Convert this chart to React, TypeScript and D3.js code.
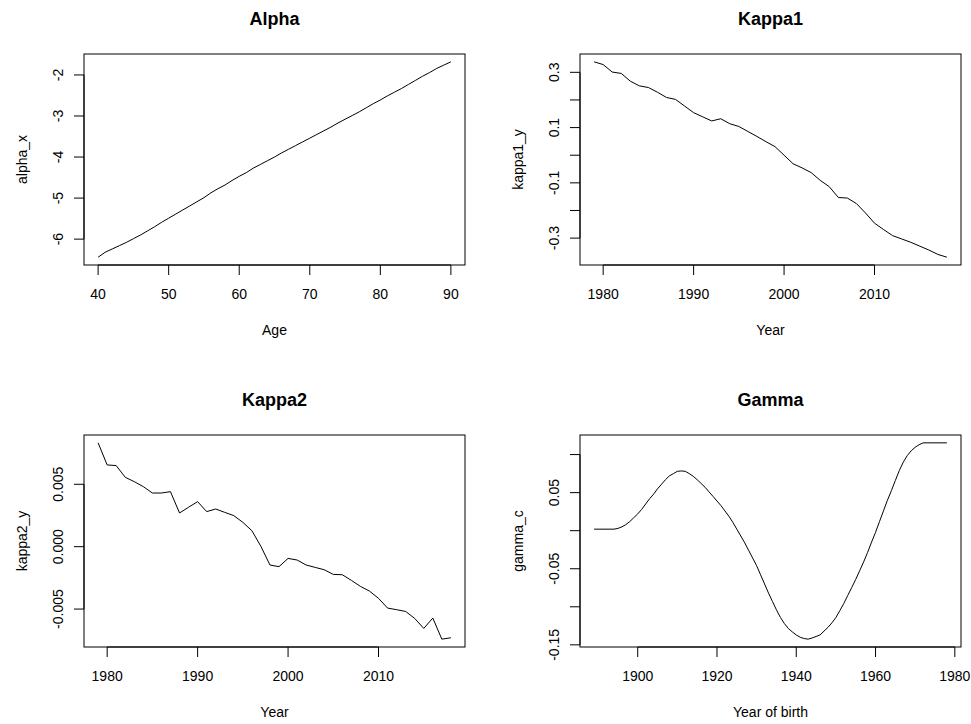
import React from "react";
import * as d3 from "d3";

// Age-specific level (ages 40..90)
const ages = d3.range(40, 91);
const alphaX = [
  -6.44, -6.32, -6.24, -6.16, -6.08, -5.99, -5.9, -5.8, -5.7, -5.59,
  -5.49, -5.39, -5.29, -5.19, -5.09, -4.99, -4.87, -4.77, -4.68, -4.57,
  -4.47, -4.38, -4.27, -4.18, -4.09, -4.0, -3.9, -3.81, -3.72, -3.63,
  -3.54, -3.45, -3.36, -3.27, -3.17, -3.08, -2.99, -2.9, -2.8, -2.7,
  -2.61, -2.51, -2.42, -2.33, -2.23, -2.13, -2.03, -1.94, -1.84, -1.76,
  -1.68,
];

// Period indices (years 1979..2018)
const years = d3.range(1979, 2019);
const kappa1Y = [
  0.338, 0.328, 0.301, 0.296, 0.268, 0.251, 0.245, 0.228, 0.209, 0.202,
  0.178, 0.154, 0.139, 0.124, 0.132, 0.114, 0.104, 0.086, 0.068, 0.049,
  0.031, 0.0, -0.031, -0.046, -0.063, -0.091, -0.114, -0.153, -0.155, -0.175,
  -0.209, -0.246, -0.269, -0.291, -0.303, -0.315, -0.329, -0.343, -0.359, -0.369,
];
const kappa2Y = [
  0.00832, 0.00655, 0.0065, 0.00556, 0.00521, 0.00481, 0.0043, 0.0043, 0.00441, 0.0027,
  0.00316, 0.00361, 0.00281, 0.00302, 0.00275, 0.00249, 0.00195, 0.00128, 0.00002, -0.00147,
  -0.0016, -0.00094, -0.00107, -0.00147, -0.00166, -0.00185, -0.00222, -0.00225, -0.0027, -0.00318,
  -0.00356, -0.00414, -0.00492, -0.00505, -0.00519, -0.00575, -0.00655, -0.00572, -0.00741, -0.0073,
];

// Cohort effect (years of birth 1889..1978)
const cohorts = d3.range(1889, 1979);
const gammaC = [
  0.002, 0.002, 0.002, 0.002, 0.002, 0.002, 0.003, 0.005, 0.008, 0.012,
  0.017, 0.022, 0.028, 0.035, 0.042, 0.048, 0.055, 0.061, 0.067, 0.072,
  0.075, 0.078, 0.0785, 0.078, 0.075, 0.0715, 0.067, 0.062, 0.057, 0.051,
  0.045, 0.039, 0.033, 0.026, 0.019, 0.011, 0.002, -0.007, -0.016, -0.026,
  -0.036, -0.046, -0.058, -0.07, -0.082, -0.093, -0.104, -0.114, -0.122, -0.1285,
  -0.133, -0.137, -0.14, -0.1417, -0.1425, -0.141, -0.139, -0.137, -0.132, -0.127,
  -0.121, -0.114, -0.105, -0.0956, -0.085, -0.0746, -0.064, -0.0526, -0.041, -0.0285,
  -0.015, -0.0022, 0.012, 0.026, 0.04, 0.0526, 0.066, 0.079, 0.09, 0.0987,
  0.105, 0.1096, 0.113, 0.1154, 0.1154, 0.1154, 0.1154, 0.1154, 0.1154, 0.1154,
];

// Axis ticks and which of them carry labels
const alphaXTicks = [40, 50, 60, 70, 80, 90];
const alphaYTicks = [-6, -5, -4, -3, -2];
const alphaYLabels = ["-6", "-5", "-4", "-3", "-2"];
const yearTicks = [1980, 1990, 2000, 2010];
const kappa1YTicks = [-0.3, -0.2, -0.1, 0.0, 0.1, 0.2, 0.3];
const kappa1YLabels = ["-0.3", "", "-0.1", "", "0.1", "", "0.3"];
const kappa2YTicks = [-0.005, 0.0, 0.005];
const kappa2YLabels = ["-0.005", "0.000", "0.005"];
const cohortTicks = [1900, 1920, 1940, 1960, 1980];
const gammaYTicks = [-0.15, -0.1, -0.05, 0.0, 0.05, 0.1];
const gammaYLabels = ["-0.15", "", "-0.05", "", "0.05", ""];

const FONT = "'Liberation Sans', Arial, sans-serif";

// R-style axis range: data extent padded by 4% on each side
function padded(values: number[]): [number, number] {
  const [lo, hi] = d3.extent(values) as [number, number];
  const pad = (hi - lo) * 0.04;
  return [lo - pad, hi + pad];
}

type PanelProps = {
  left: number;
  right: number;
  top: number;
  bottom: number;
  xs: number[];
  ys: number[];
  xTicks: number[];
  yTicks: number[];
  yLabels: string[];
  title: string;
  xLabel: string;
  yLabel: string;
};

function Panel(p: PanelProps) {
  const x = d3.scaleLinear().domain(padded(p.xs)).range([p.left, p.right]);
  const y = d3.scaleLinear().domain(padded(p.ys)).range([p.bottom, p.top]);
  const line = d3
    .line<number>()
    .x((_, i) => x(p.xs[i]))
    .y((d) => y(d));
  const tickLen = 10;
  const xTicks = p.xTicks.filter((t) => x(t) >= p.left - 0.5 && x(t) <= p.right + 0.5);
  const cx = (p.left + p.right) / 2;
  const cy = (p.top + p.bottom) / 2;
  return (
    <g fontFamily={FONT} fill="#000">
      <text x={cx} y={p.top - 29} textAnchor="middle" fontWeight="bold" fontSize={18}>
        {p.title}
      </text>
      <path d={line(p.ys) || ""} fill="none" stroke="#000" strokeWidth={1} />
      <rect
        x={p.left}
        y={p.top}
        width={p.right - p.left}
        height={p.bottom - p.top}
        fill="none"
        stroke="#000"
        strokeWidth={1}
      />
      {/* x axis */}
      <line
        x1={x(xTicks[0])}
        x2={x(xTicks[xTicks.length - 1])}
        y1={p.bottom}
        y2={p.bottom}
        stroke="#000"
      />
      {xTicks.map((t) => (
        <g key={"x" + t}>
          <line x1={x(t)} x2={x(t)} y1={p.bottom} y2={p.bottom + tickLen} stroke="#000" />
          <text x={x(t)} y={p.bottom + 34} textAnchor="middle" fontSize={14}>
            {t}
          </text>
        </g>
      ))}
      <text x={cx} y={p.bottom + 70} textAnchor="middle" fontSize={14}>
        {p.xLabel}
      </text>
      {/* y axis */}
      <line
        x1={p.left}
        x2={p.left}
        y1={y(p.yTicks[0])}
        y2={y(p.yTicks[p.yTicks.length - 1])}
        stroke="#000"
      />
      {p.yTicks.map((t, i) => (
        <g key={"y" + i}>
          <line x1={p.left - tickLen} x2={p.left} y1={y(t)} y2={y(t)} stroke="#000" />
          {p.yLabels[i] && (
            <text
              transform={`translate(${p.left - 21},${y(t)}) rotate(-90)`}
              textAnchor="middle"
              fontSize={14}
            >
              {p.yLabels[i]}
            </text>
          )}
        </g>
      ))}
      <text
        transform={`translate(${p.left - 57},${cy}) rotate(-90)`}
        textAnchor="middle"
        fontSize={14}
      >
        {p.yLabel}
      </text>
    </g>
  );
}

export default function App() {
  return (
    <svg
      width={971}
      height={724}
      style={{ position: "absolute", left: 0, top: 0, background: "#fff" }}
    >
      <rect width={971} height={724} fill="#fff" />
      <Panel
        left={84}
        right={465}
        top={54}
        bottom={265}
        xs={ages}
        ys={alphaX}
        xTicks={alphaXTicks}
        yTicks={alphaYTicks}
        yLabels={alphaYLabels}
        title="Alpha"
        xLabel="Age"
        yLabel="alpha_x"
      />
      <Panel
        left={580}
        right={961}
        top={54}
        bottom={265}
        xs={years}
        ys={kappa1Y}
        xTicks={yearTicks}
        yTicks={kappa1YTicks}
        yLabels={kappa1YLabels}
        title="Kappa1"
        xLabel="Year"
        yLabel="kappa1_y"
      />
      <Panel
        left={84}
        right={465}
        top={435}
        bottom={647}
        xs={years}
        ys={kappa2Y}
        xTicks={yearTicks}
        yTicks={kappa2YTicks}
        yLabels={kappa2YLabels}
        title="Kappa2"
        xLabel="Year"
        yLabel="kappa2_y"
      />
      <Panel
        left={580}
        right={961}
        top={435}
        bottom={647}
        xs={cohorts}
        ys={gammaC}
        xTicks={cohortTicks}
        yTicks={gammaYTicks}
        yLabels={gammaYLabels}
        title="Gamma"
        xLabel="Year of birth"
        yLabel="gamma_c"
      />
    </svg>
  );
}
